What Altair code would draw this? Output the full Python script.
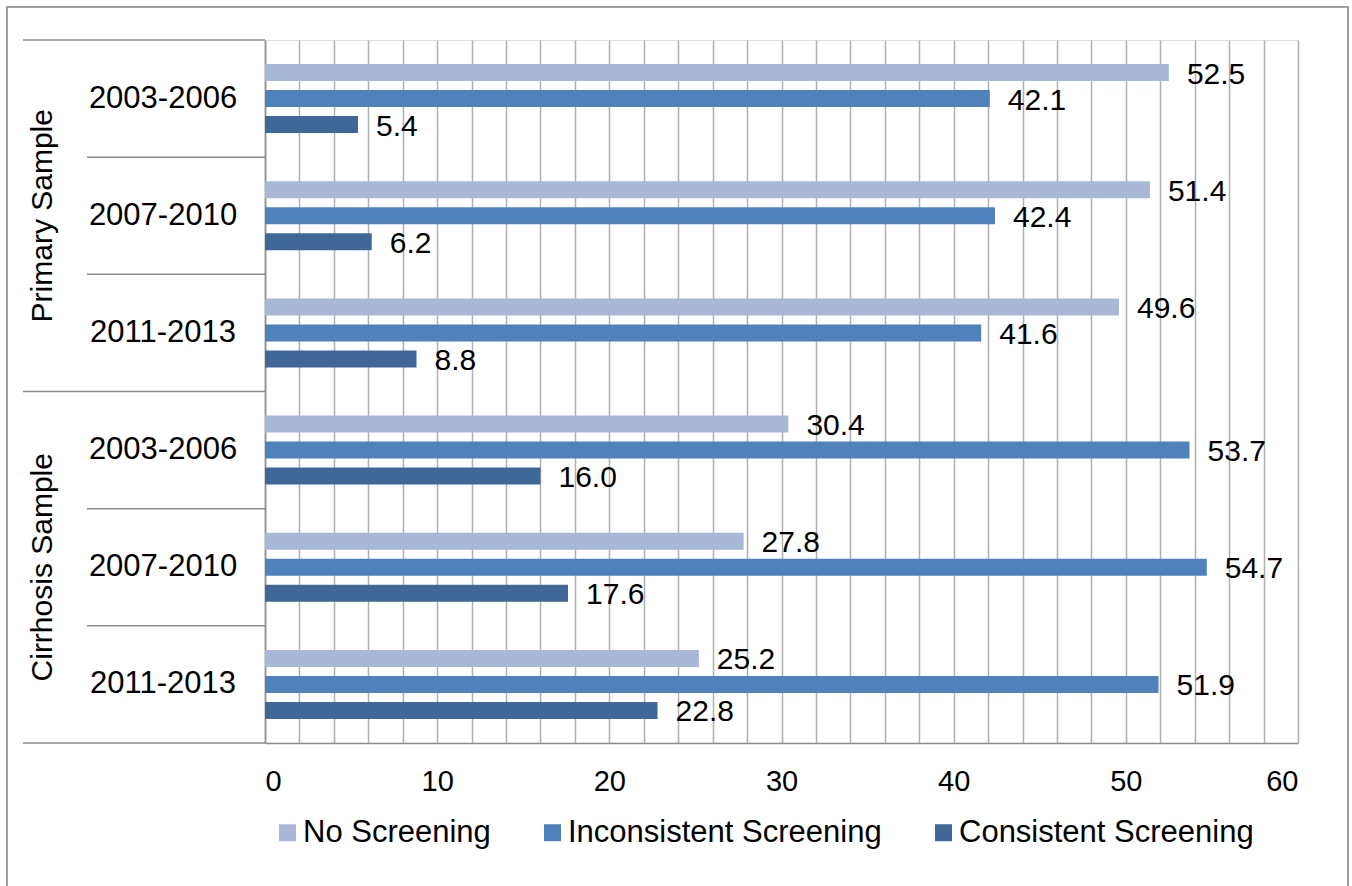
import altair as alt
import pandas as pd

samples = ["Primary Sample"] * 3 + ["Cirrhosis Sample"] * 3
periods = ["2003-2006", "2007-2010", "2011-2013"] * 2
series = ["No Screening", "Inconsistent Screening", "Consistent Screening"]
no_screening = [52.5, 51.4, 49.6, 30.4, 27.8, 25.2]
inconsistent = [42.1, 42.4, 41.6, 53.7, 54.7, 51.9]
consistent = [5.4, 6.2, 8.8, 16.0, 17.6, 22.8]
colors = ["#A9B8D7", "#4F81BD", "#3F6899"]
x_ticks = list(range(0, 62, 2))

rows = [f"{s} {p}" for s, p in zip(samples, periods)]

recs = []
for i, r in enumerate(rows):
    for sname, vals in zip(series, [no_screening, inconsistent, consistent]):
        recs.append({"row": r, "series": sname, "value": vals[i]})
df = pd.DataFrame(recs)

row_df = pd.DataFrame({"row": rows, "sample": samples, "period": periods,
                       "first": [p == "2003-2006" for p in periods]})

FONT = "Liberation Sans"
W, H = 1033, 703

yscale = alt.Scale(domain=rows, paddingInner=0, paddingOuter=0)
yenc = alt.Y("row:N", scale=yscale, sort=rows,
             axis=alt.Axis(labels=False, ticks=False, title=None, grid=False,
                           domainColor="#8C8C8C", domainWidth=1.5))
yoff = alt.YOffset("series:N", sort=series,
                   scale=alt.Scale(domain=series, paddingInner=0.346, paddingOuter=0.927))

xscale = alt.Scale(domain=[0, 60], nice=False)
xaxis = alt.Axis(values=x_ticks, tickCount=40, labelOverlap=False,
                 labelExpr="datum.value % 10 == 0 ? datum.label : ''",
                 title=None, ticks=False, grid=True, gridColor="#B0B0B0", gridWidth=1.5,
                 domainColor="#8C8C8C", domainWidth=1.5, labelFont=FONT,
                 labelFontSize=29, labelColor="#000000", labelPadding=24)

bars = alt.Chart(df).mark_bar(size=17).encode(
    x=alt.X("value:Q", scale=xscale, axis=xaxis),
    y=yenc,
    yOffset=yoff,
    color=alt.Color("series:N", sort=series,
                    scale=alt.Scale(domain=series, range=colors),
                    legend=alt.Legend(orient="none", legendX=7, legendY=777,
                                      direction="horizontal", title=None,
                                      symbolType="square", symbolSize=289,
                                      symbolStrokeWidth=0, labelFont=FONT,
                                      labelFontSize=31, labelColor="#000000",
                                      labelLimit=0, labelOffset=0,
                                      columnPadding=46, padding=0)),
)

labels = alt.Chart(df).mark_text(align="left", baseline="middle", dx=18, dy=2,
                                 font=FONT, fontSize=30, color="#000000").encode(
    x=alt.X("value:Q", scale=xscale),
    y=alt.Y("row:N", scale=yscale, sort=rows),
    yOffset=yoff,
    text=alt.Text("value:Q", format=".1f"),
)

year_labels = alt.Chart(row_df).mark_text(align="center", baseline="middle",
                                          font=FONT, fontSize=31, color="#000000").encode(
    x=alt.value(-102),
    y=alt.Y("row:N", scale=yscale, sort=rows),
    text="period:N",
)

mid_df = row_df[row_df["period"] == "2007-2010"]
sample_labels = alt.Chart(mid_df).mark_text(align="center", baseline="middle", angle=270,
                                            font=FONT, fontSize=30, color="#000000").encode(
    x=alt.value(-222),
    y=alt.Y("row:N", scale=yscale, sort=rows),
    text="sample:N",
)

year_seps = alt.Chart(row_df[~row_df["first"]]).mark_rule(color="#8C8C8C", strokeWidth=1.5).encode(
    x=alt.value(-178), x2=alt.value(0),
    y=alt.Y("row:N", scale=yscale, sort=rows, bandPosition=0),
)

sample_seps = alt.Chart(row_df[row_df["first"]]).mark_rule(color="#8C8C8C", strokeWidth=1.5).encode(
    x=alt.value(-242), x2=alt.value(0),
    y=alt.Y("row:N", scale=yscale, sort=rows, bandPosition=0),
)

bottom_sep = alt.Chart(row_df.tail(1)).mark_rule(color="#8C8C8C", strokeWidth=1.5).encode(
    x=alt.value(-242), x2=alt.value(0),
    y=alt.Y("row:N", scale=yscale, sort=rows, bandPosition=1),
)

frame = alt.Chart(row_df.head(1)).mark_rect(fill=None, stroke="#A0A0A0", strokeWidth=2).encode(
    x=alt.value(-258), x2=alt.value(1083), y=alt.value(-33), y2=alt.value(900),
)

chart = alt.layer(frame, bars, labels, year_labels, sample_labels,
                  year_seps, sample_seps, bottom_sep).properties(
    width=W, height=H,
    autosize=alt.AutoSizeParams(type="none"),
    padding={"left": 265, "top": 40, "right": 54, "bottom": 143},
).configure_view(stroke=None).configure(background="white")

chart.save("out.html", embed_options={"renderer": "svg", "actions": False})
